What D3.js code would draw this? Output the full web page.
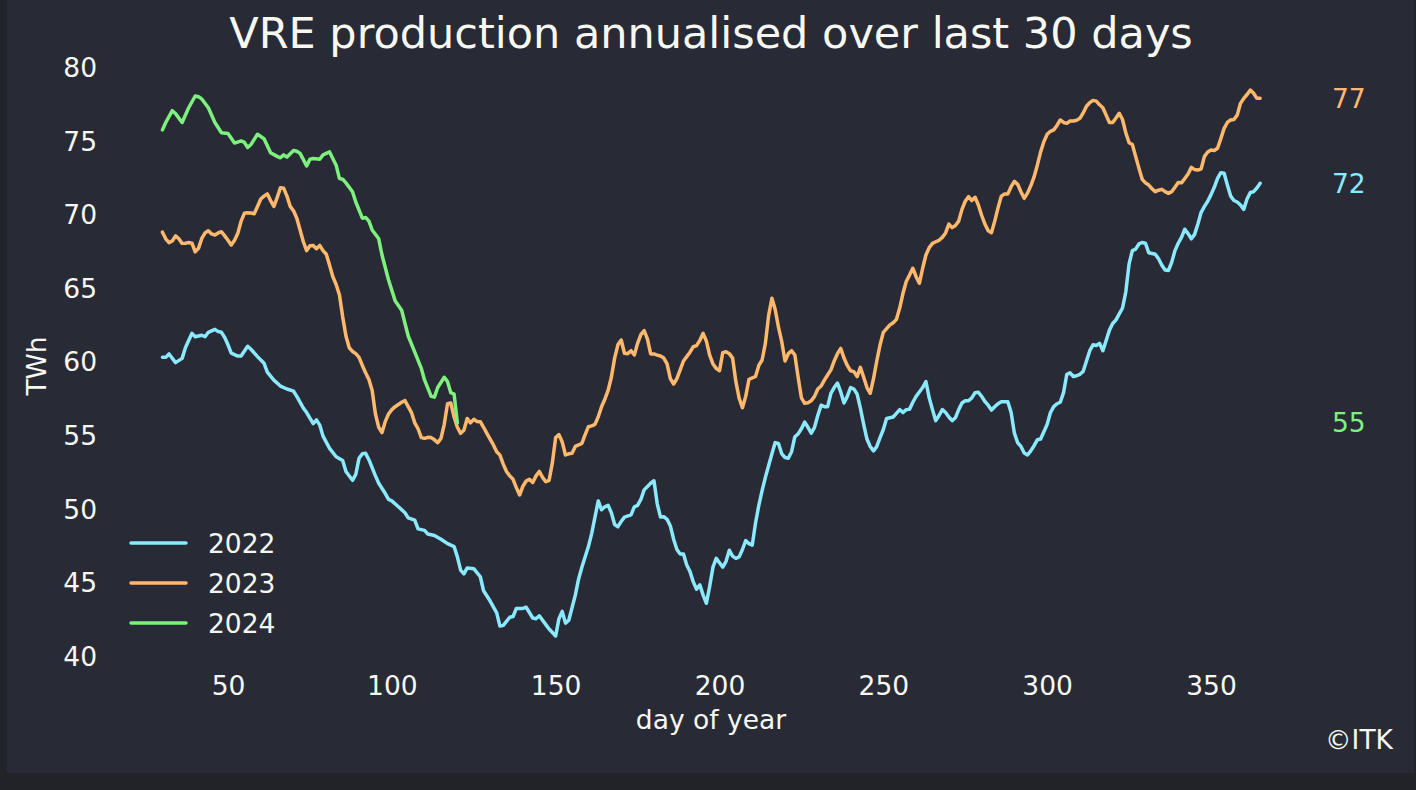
<!DOCTYPE html>
<html>
<head>
<meta charset="utf-8">
<script src="https://cdn.jsdelivr.net/npm/d3@7"></script>
<style>
  html, body { margin: 0; padding: 0; background: #212329; }
  svg { display: block; }
</style>
</head>
<body>
<svg id="chart" width="1416" height="790"></svg>
<script>
// ---------- data ----------
const title = "VRE production annualised over last 30 days";
const xLabel = "day of year";
const yLabel = "TWh";
const credit = "©ITK";
const xTicks = [50, 100, 150, 200, 250, 300, 350];
const yTicks = [40, 45, 50, 55, 60, 65, 70, 75, 80];
const seriesNames = ["2022", "2023", "2024"];
const seriesColors = ["#8be9fd", "#ffb86c", "#7ef07e"];

// [day of year, TWh]
const vre2022 = [[30,60.35],[31,60.35],[32,60.58],[34,59.99],[36,60.28],[37,61.0],[39,61.98],[40,61.75],[42,61.85],[43,61.75],[44,62.05],[46,62.25],[47,62.1],[48,62.05],[49,61.7],[50,61.2],[51,60.63],[53,60.44],[54,60.44],[56,61.1],[57,60.9],[59,60.4],[61,59.95],[62,59.35],[64,58.8],[66,58.4],[68,58.2],[70,58.05],[71,57.7],[73,56.9],[74,56.6],[76,55.85],[77,56.1],[78,55.75],[79,55.0],[81,54.17],[83,53.6],[85,53.35],[86,52.6],[88,52.0],[89,52.4],[90,53.5],[91,53.8],[92,53.83],[93,53.4],[95,52.3],[96,51.8],[98,51.1],[99,50.7],[100,50.6],[102,50.2],[104,49.8],[105,49.45],[107,49.3],[108,48.7],[110,48.6],[111,48.35],[113,48.25],[115,48.0],[117,47.7],[119,47.5],[120,46.8],[121,45.9],[122,45.65],[123,46.05],[125,46.0],[127,45.45],[128,44.5],[130,43.8],[132,43.0],[133,42.1],[134,42.15],[136,42.7],[137,42.75],[138,43.3],[140,43.3],[141,43.38],[143,42.65],[144,42.6],[145,42.8],[147,42.2],[148,41.9],[150,41.43],[151,42.6],[152,43.1],[153,42.3],[154,42.5],[156,44.2],[157,45.3],[158,46.1],[160,47.5],[161,48.4],[162,49.5],[163,50.6],[164,50.0],[165,50.2],[166,50.3],[167,49.8],[168,49.0],[169,48.85],[170,49.2],[171,49.5],[173,49.65],[174,50.2],[175,50.3],[176,50.7],[177,51.35],[179,51.8],[180,51.97],[181,50.4],[182,49.5],[183,49.53],[184,49.35],[185,48.9],[186,48.0],[187,47.3],[188,47.0],[189,47.0],[190,46.25],[191,45.8],[192,45.1],[193,44.6],[194,44.9],[195,44.2],[196,43.65],[197,44.8],[198,46.1],[199,46.7],[200,46.4],[201,46.1],[202,46.5],[203,47.25],[204,46.85],[205,46.7],[206,46.8],[207,47.3],[208,47.9],[209,47.7],[210,47.6],[211,49.1],[212,50.3],[213,51.3],[214,52.2],[215,53.0],[216,53.8],[217,54.56],[218,54.5],[219,53.8],[220,53.55],[221,53.5],[222,53.94],[223,54.96],[224,55.15],[225,55.5],[226,55.95],[227,55.6],[228,55.2],[229,55.6],[230,56.4],[231,57.1],[232,57.0],[233,57.0],[234,57.9],[235,58.3],[236,58.6],[237,58.0],[238,57.25],[239,57.7],[240,58.3],[241,58.2],[242,57.85],[243,56.9],[244,55.8],[245,54.8],[246,54.3],[247,54.0],[248,54.3],[249,54.9],[250,55.45],[251,56.2],[252,56.25],[253,56.3],[254,56.55],[255,56.8],[256,56.6],[257,56.8],[258,56.82],[259,57.3],[260,57.7],[261,58.0],[262,58.3],[263,58.7],[264,57.6],[265,56.8],[266,56.05],[267,56.4],[268,56.8],[269,56.6],[270,56.3],[271,56.05],[272,56.25],[273,56.8],[274,57.25],[275,57.4],[276,57.4],[277,57.6],[278,57.95],[279,57.98],[280,57.7],[281,57.35],[282,57.1],[283,56.77],[284,57.0],[285,57.2],[286,57.34],[287,57.34],[288,57.34],[289,56.6],[290,55.2],[291,54.55],[292,54.3],[293,53.85],[294,53.72],[295,54.0],[296,54.35],[297,54.75],[298,54.8],[299,55.3],[300,55.8],[301,56.6],[302,57.0],[303,57.2],[304,57.3],[305,57.95],[306,59.2],[307,59.3],[308,59.05],[309,59.1],[310,59.2],[311,59.4],[312,60.1],[313,60.8],[314,61.2],[315,61.15],[316,61.3],[317,60.8],[318,61.5],[319,62.2],[320,62.65],[321,62.9],[322,63.3],[323,63.7],[324,64.8],[325,66.7],[326,67.6],[327,67.7],[328,68.05],[329,68.15],[330,68.1],[331,67.45],[332,67.4],[333,67.35],[334,67.05],[335,66.6],[336,66.28],[337,66.25],[338,66.8],[339,67.6],[340,68.1],[341,68.5],[342,69.05],[343,68.75],[344,68.4],[345,68.7],[346,69.4],[347,70.2],[348,70.6],[349,70.95],[350,71.4],[351,71.9],[352,72.5],[353,72.89],[354,72.85],[355,72.05],[356,71.3],[357,71.0],[358,70.9],[359,70.7],[360,70.4],[361,71.1],[362,71.55],[363,71.6],[364,71.85],[365,72.17]];

const vre2023 = [[30,68.85],[31,68.4],[32,68.14],[33,68.25],[34,68.6],[35,68.4],[36,68.09],[37,68.1],[38,68.15],[39,68.1],[40,67.52],[41,67.75],[42,68.43],[43,68.8],[44,68.95],[45,68.73],[46,68.66],[47,68.8],[48,68.88],[49,68.6],[50,68.3],[51,67.98],[52,68.3],[53,68.77],[54,69.6],[55,70.13],[56,70.17],[57,70.15],[58,70.1],[59,70.6],[60,71.1],[61,71.3],[62,71.45],[63,71.0],[64,70.6],[65,71.2],[66,71.87],[67,71.83],[68,71.3],[69,70.6],[70,70.3],[71,69.8],[72,69.0],[73,68.2],[74,67.6],[75,67.93],[76,67.95],[77,67.73],[78,67.95],[79,67.6],[80,67.35],[81,66.6],[82,65.83],[83,65.3],[84,64.6],[85,63.1],[86,61.8],[87,61.0],[88,60.75],[89,60.6],[90,60.35],[91,59.8],[92,59.3],[93,58.85],[94,58.1],[95,56.5],[96,55.6],[97,55.24],[98,56.0],[99,56.5],[100,56.8],[101,57.0],[102,57.15],[103,57.3],[104,57.41],[105,57.0],[106,56.6],[107,55.9],[108,55.5],[109,54.9],[110,54.85],[111,54.92],[112,54.9],[113,54.75],[114,54.56],[115,54.85],[116,55.8],[117,57.2],[118,57.25],[119,56.3],[120,55.6],[121,55.19],[122,55.4],[123,56.2],[124,55.9],[125,56.14],[126,56.0],[127,55.98],[128,55.6],[129,55.19],[130,54.8],[131,54.4],[132,53.94],[133,53.71],[134,53.1],[135,52.6],[136,52.3],[137,52.07],[138,51.5],[139,51.0],[140,51.6],[141,51.95],[142,52.07],[143,51.85],[144,52.3],[145,52.6],[146,52.2],[147,51.9],[148,52.0],[149,53.2],[150,54.9],[151,55.1],[152,54.6],[153,53.72],[154,53.8],[155,53.83],[156,54.3],[157,54.4],[158,54.51],[159,55.1],[160,55.64],[161,55.7],[162,55.8],[163,56.32],[164,57.0],[165,57.5],[166,58.1],[167,59.0],[168,60.3],[169,61.2],[170,61.53],[171,60.63],[172,60.6],[173,60.8],[174,60.51],[175,61.3],[176,61.9],[177,62.16],[178,61.6],[179,60.58],[180,60.58],[181,60.5],[182,60.44],[183,60.3],[184,59.9],[185,58.9],[186,58.54],[187,58.9],[188,59.5],[189,60.1],[190,60.4],[191,60.7],[192,61.07],[193,61.15],[194,61.5],[195,61.98],[196,61.45],[197,60.5],[198,59.9],[199,59.6],[200,59.44],[201,60.67],[202,60.73],[203,60.6],[204,60.3],[205,58.7],[206,57.57],[207,56.93],[208,57.7],[209,58.86],[210,58.95],[211,59.05],[212,59.8],[213,60.17],[214,61.3],[215,63.2],[216,64.36],[217,63.6],[218,62.4],[219,61.41],[220,60.1],[221,60.6],[222,60.8],[223,60.51],[224,59.0],[225,57.6],[226,57.23],[227,57.27],[228,57.4],[229,57.7],[230,58.2],[231,58.4],[232,58.8],[233,59.15],[234,59.5],[235,60.1],[236,60.6],[237,60.96],[238,60.3],[239,59.8],[240,59.44],[241,59.38],[242,59.04],[243,59.67],[244,59.0],[245,58.3],[246,57.91],[247,58.9],[248,60.1],[249,61.2],[250,62.05],[251,62.3],[252,62.55],[253,62.7],[254,62.93],[255,63.7],[256,64.7],[257,65.5],[258,65.94],[259,66.4],[260,65.83],[261,65.38],[262,66.4],[263,67.3],[264,67.8],[265,68.09],[266,68.2],[267,68.3],[268,68.5],[269,68.8],[270,69.4],[271,69.16],[272,69.3],[273,69.6],[274,70.4],[275,70.95],[276,71.26],[277,71.0],[278,71.22],[279,70.7],[280,70.0],[281,69.4],[282,68.95],[283,68.82],[284,69.6],[285,70.5],[286,71.3],[287,71.44],[288,71.45],[289,71.94],[290,72.3],[291,72.1],[292,71.6],[293,71.15],[294,71.5],[295,72.0],[296,72.6],[297,73.4],[298,74.3],[299,75.0],[300,75.5],[301,75.7],[302,75.8],[303,76.1],[304,76.47],[305,76.3],[306,76.24],[307,76.4],[308,76.4],[309,76.45],[310,76.58],[311,76.95],[312,77.4],[313,77.65],[314,77.8],[315,77.75],[316,77.5],[317,77.3],[318,76.8],[319,76.3],[320,76.3],[321,76.6],[322,76.92],[323,76.5],[324,75.6],[325,74.93],[326,74.8],[327,74.0],[328,73.2],[329,72.44],[330,72.2],[331,72.05],[332,71.8],[333,71.6],[334,71.7],[335,71.76],[336,71.6],[337,71.49],[338,71.6],[339,71.9],[340,72.22],[341,72.2],[342,72.5],[343,72.8],[344,73.25],[345,73.1],[346,73.07],[347,73.15],[348,74.0],[349,74.3],[350,74.43],[351,74.4],[352,74.55],[353,75.2],[354,75.9],[355,76.3],[356,76.47],[357,76.5],[358,76.8],[359,77.6],[360,77.94],[361,78.2],[362,78.5],[363,78.28],[364,77.94],[365,77.95]];

const vre2024 = [[30,75.8],[31,76.3],[33,77.1],[34,76.9],[36,76.3],[38,77.3],[40,78.1],[41,78.05],[42,77.9],[44,77.3],[46,76.3],[48,75.6],[50,75.55],[52,74.9],[54,75.05],[55,74.95],[56,74.6],[57,74.8],[59,75.5],[61,75.2],[63,74.25],[65,74.0],[66,73.9],[67,74.1],[68,73.95],[70,74.4],[71,74.35],[72,74.2],[74,73.35],[75,73.8],[76,73.85],[78,73.8],[79,74.1],[81,74.3],[83,73.4],[84,72.5],[85,72.45],[86,72.2],[88,71.6],[89,70.9],[91,69.8],[92,69.85],[93,69.6],[94,69.0],[96,68.4],[97,67.3],[99,65.6],[101,64.2],[103,63.55],[105,61.8],[107,60.7],[109,59.6],[110,58.8],[112,57.7],[113,57.65],[114,58.3],[116,59.0],[117,58.7],[118,57.95],[119,57.85],[120,55.9]];

const allSeries = [vre2022, vre2023, vre2024];

// ---------- drawing ----------
const FONT = "'DejaVu Sans', sans-serif";
const TXT = "#f8f8f2";
const FS = "26.5px";
const svg = d3.select("#chart");

svg.append("rect").attr("x", 0).attr("y", 0).attr("width", 1416).attr("height", 790).attr("fill", "#212329");
svg.append("rect").attr("x", 7).attr("y", 0).attr("width", 1407).attr("height", 773).attr("fill", "#282b36");

const x = d3.scaleLinear().domain([50, 350]).range([228, 1211]);
const y = d3.scaleLinear().domain([40, 80]).range([657, 68]);

// axes
const gx = svg.append("g").attr("transform", "translate(0,668)")
  .call(d3.axisBottom(x).tickValues(xTicks).tickSize(0).tickPadding(8).tickFormat(d3.format("d")));
const gy = svg.append("g").attr("transform", "translate(107,0)")
  .call(d3.axisLeft(y).tickValues(yTicks).tickSize(0).tickPadding(10).tickFormat(d3.format("d")));
[gx, gy].forEach(g => {
  g.select(".domain").remove();
  g.selectAll("text").attr("fill", TXT).style("font-family", FONT).style("font-size", FS);
});

// lines
const line = d3.line().x(d => x(d[0])).y(d => y(d[1]));
allSeries.forEach((s, i) => {
  svg.append("path").datum(s)
    .attr("d", line)
    .attr("fill", "none")
    .attr("stroke", seriesColors[i])
    .attr("stroke-width", 3.5)
    .attr("stroke-linejoin", "round")
    .attr("stroke-linecap", "round");
});

// end labels
allSeries.forEach((s, i) => {
  const last = s[s.length - 1];
  svg.append("text")
    .attr("x", 1332).attr("y", y(last[1]))
    .attr("dy", "0.36em")
    .attr("fill", seriesColors[i])
    .style("font-family", FONT).style("font-size", FS)
    .text(Math.floor(last[1]));
});

// title & labels
svg.append("text").attr("x", 711).attr("y", 48).attr("text-anchor", "middle")
  .attr("fill", TXT).style("font-family", FONT).style("font-size", "43px").text(title);
svg.append("text").attr("x", 711).attr("y", 729).attr("text-anchor", "middle")
  .attr("fill", TXT).style("font-family", FONT).style("font-size", FS).text(xLabel);
svg.append("text").attr("transform", "translate(46,366) rotate(-90)").attr("text-anchor", "middle")
  .attr("fill", TXT).style("font-family", FONT).style("font-size", FS).text(yLabel);
svg.append("text").attr("x", 1393).attr("y", 749).attr("text-anchor", "end")
  .attr("fill", TXT).style("font-family", FONT).style("font-size", FS).text(credit);

// legend
const lg = svg.append("g");
seriesNames.forEach((n, i) => {
  const ly = 543 + i * 40;
  lg.append("line").attr("x1", 131).attr("x2", 186).attr("y1", ly).attr("y2", ly)
    .attr("stroke", seriesColors[i]).attr("stroke-width", 3.5).attr("stroke-linecap", "round");
  lg.append("text").attr("x", 208).attr("y", ly).attr("dy", "0.36em")
    .attr("fill", TXT).style("font-family", FONT).style("font-size", FS).text(n);
});
</script>
</body>
</html>
